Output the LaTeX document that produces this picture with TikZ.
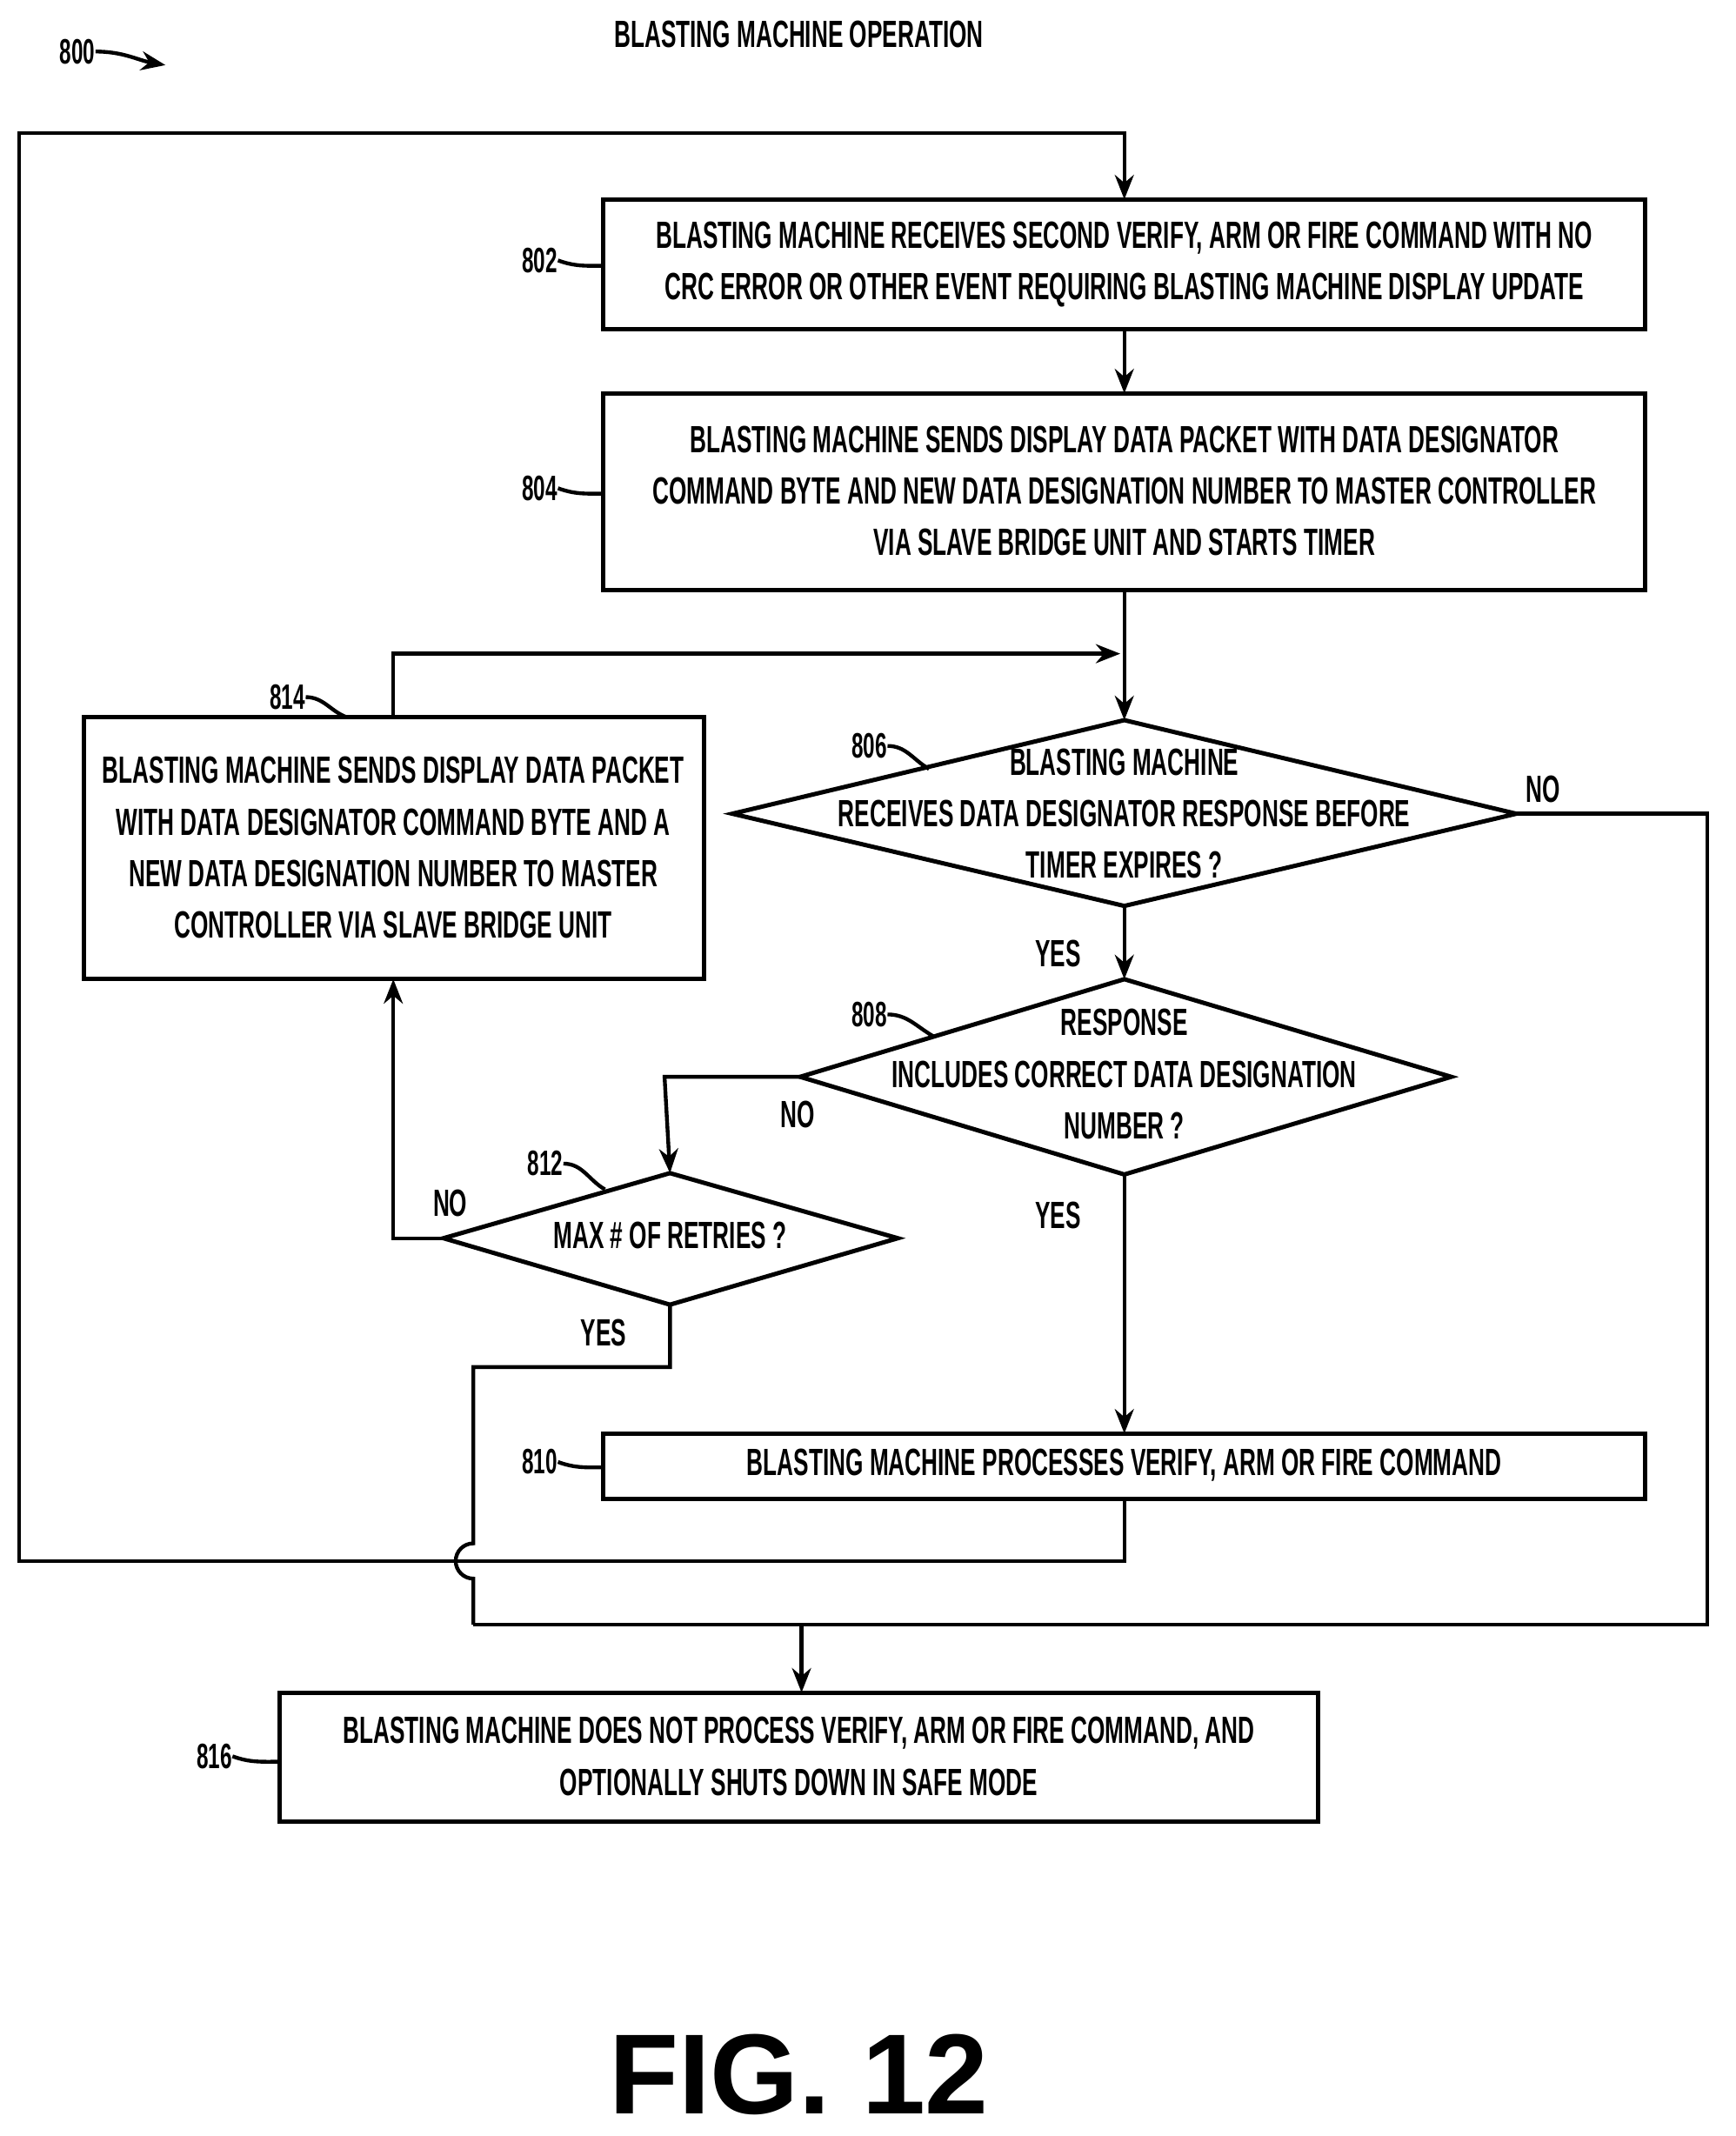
\documentclass[tikz,border=0pt]{standalone}
\usepackage{fontspec}
\setmainfont{Liberation Sans}[FakeStretch=0.6]
\newfontfamily\figfont{Liberation Sans}
\usetikzlibrary{arrows.meta}
\begin{document}
\begin{tikzpicture}[x=0.5pt,y=-0.5pt,
  every node/.style={font=\bfseries\fontsize{14pt}{19pt}\selectfont,inner sep=0pt,align=center},
  ln/.style={line width=1.4pt},
  ar/.style={ln,-{Stealth[length=9pt,width=7pt]}},
  bx/.style={draw,line width=1.6pt},
  lbl/.style={font=\bfseries\fontsize{13pt}{15pt}\selectfont}]
\useasboundingbox (0,0) rectangle (1280,1575);
\node (title) at (589,25) {BLASTING MACHINE OPERATION};
\node[lbl] (l800) at (57,38) {800};
\coordinate (a800) at (122,48);
\draw[ar] (l800.east) to[out=0,in=170] (a800);
% boxes
\draw[bx] (445,147) rectangle (1213,243); \coordinate (b802t) at (829,147); \coordinate (b802b) at (829,243);
\node (t802) at (829,195) {BLASTING MACHINE RECEIVES SECOND VERIFY, ARM OR FIRE COMMAND WITH NO\\CRC ERROR OR OTHER EVENT REQUIRING BLASTING MACHINE DISPLAY UPDATE};
\draw[bx] (445,290) rectangle (1213,435); \coordinate (b804t) at (829,290); \coordinate (b804b) at (829,435);
\node (t804) at (829,362) {BLASTING MACHINE SENDS DISPLAY DATA PACKET WITH DATA DESIGNATOR\\COMMAND BYTE AND NEW DATA DESIGNATION NUMBER TO MASTER CONTROLLER\\VIA SLAVE BRIDGE UNIT AND STARTS TIMER};
\draw[bx] (62,529) rectangle (519,722); \coordinate (b814t) at (290,529); \coordinate (b814b) at (290,722);
\node (t814) at (290,625) {BLASTING MACHINE SENDS DISPLAY DATA PACKET\\WITH DATA DESIGNATOR COMMAND BYTE AND A\\NEW DATA DESIGNATION NUMBER TO MASTER\\CONTROLLER VIA SLAVE BRIDGE UNIT};
\draw[bx] (445,1057) rectangle (1213,1105); \coordinate (b810t) at (829,1057); \coordinate (b810b) at (829,1105);
\node (t810) at (829,1080) {BLASTING MACHINE PROCESSES VERIFY, ARM OR FIRE COMMAND};
\draw[bx] (206,1248) rectangle (972,1343); \coordinate (b816t) at (591,1248);
\node (t816) at (589,1295) {BLASTING MACHINE DOES NOT PROCESS VERIFY, ARM OR FIRE COMMAND, AND\\OPTIONALLY SHUTS DOWN IN SAFE MODE};
% diamonds
\draw[bx] (829,531) coordinate (d806t) -- (1118,600) coordinate (d806r) -- (829,668) coordinate (d806b) -- (540,600) -- cycle;
\node (t806) at (829,600) {BLASTING MACHINE\\RECEIVES DATA DESIGNATOR RESPONSE BEFORE\\TIMER EXPIRES ?};
\draw[bx] (829,722) coordinate (d808t) -- (1070,794) -- (829,866) coordinate (d808b) -- (590,794) coordinate (d808l) -- cycle;
\node (t808) at (829,792) {RESPONSE\\INCLUDES CORRECT DATA DESIGNATION\\NUMBER ?};
\draw[bx] (494,865) coordinate (d812t) -- (662,913) -- (494,962) coordinate (d812b) -- (327,913) coordinate (d812l) -- cycle;
\node (t812) at (494,911) {MAX \# OF RETRIES ?};
% connectors
\draw[ar] (b810b) -- (829,1151) -- (14,1151) -- (14,98) -- (829,98) -- (b802t);
\draw[ar] (b802b) -- (b804t);
\draw[ar] (b804b) -- (d806t);
\draw[ar] (b814t) -- (290,482) -- (826,482);
\draw[ar] (d806b) -- (d808t);
\draw[ar] (d808b) -- (b810t);
\draw[ar] (d808l) -- (490,794) -- (d812t);
\draw[ar] (d812l) -- (290,913) -- (b814b);
\draw[ln] (d806r) -- (1259,600) -- (1259,1198) -- (349,1198);
\draw[ln] (d812b) -- (494,1008) -- (349,1008) -- (349,1138) arc[start angle=90,end angle=270,radius=6.5pt] -- (349,1198);
\draw[ar] (591,1198) -- (b816t);
% yes/no
\node (y1) at (780,703) {YES};
\node (n1) at (1138,582) {NO};
\node (n2) at (588,822) {NO};
\node (y2) at (780,896) {YES};
\node (n3) at (332,887) {NO};
\node (y3) at (445,983) {YES};
% ref labels
\node[lbl] (r802) at (398,192) {802}; \draw[ln] (r802.east) to[out=-20,in=180] (445,196);
\node[lbl] (r804) at (398,360) {804}; \draw[ln] (r804.east) to[out=-20,in=180] (445,364);
\node[lbl] (r814) at (212,514) {814}; \draw[ln] (r814.east) to[out=0,in=160] (256,529);
\node[lbl] (r806) at (641,550) {806}; \draw[ln] (r806.east) to[out=0,in=150] (685,567);
\node[lbl] (r808) at (641,748) {808}; \draw[ln] (r808.east) to[out=0,in=150] (688,764);
\node[lbl] (r812) at (402,858) {812}; \draw[ln] (r812.east) to[out=0,in=150] (446,877);
\node[lbl] (r810) at (398,1078) {810}; \draw[ln] (r810.east) to[out=-20,in=180] (445,1082);
\node[lbl] (r816) at (158,1295) {816}; \draw[ln] (r816.east) to[out=-20,in=180] (206,1299);
\node[font=\figfont\bfseries\fontsize{42pt}{46pt}\selectfont] (fig) at (589,1530) {FIG. 12};
\end{tikzpicture}
\end{document}
